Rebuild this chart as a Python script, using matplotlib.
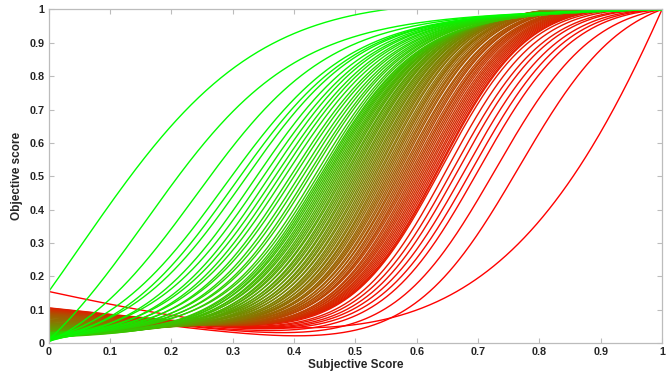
import numpy as np
import matplotlib
matplotlib.use("Agg")
import matplotlib.pyplot as plt

plt.rcParams['font.family'] = ['Liberation Sans', 'DejaVu Sans']

# Each curve: start value y0 at x=0, linear tilt k, logistic width s,
# and the x where it crosses 0.5 (x50); every curve ends at (1, 1).
# green (left) curves
green_x50 = [0.133, 0.211, 0.263, 0.298, 0.312, 0.323, 0.339, 0.350, 0.360, 0.369,
             0.377, 0.385, 0.394, 0.400, 0.408, 0.414, 0.421, 0.426, 0.433, 0.438]
green_y0 = [0.155, 0.010, 0.004, 0.012, 0.006, 0.015, 0.009, 0.018, 0.012, 0.020,
            0.014, 0.022, 0.017, 0.025, 0.020, 0.027, 0.023, 0.030, 0.026, 0.032]
green_k = [-0.12, 0.03, 0.03, 0.03, 0.03, 0.03, 0.03, 0.03, 0.03, 0.03,
           0.03, 0.03, 0.03, 0.03, 0.03, 0.03, 0.03, 0.03, 0.03, 0.03]
green_s = [0.150, 0.120, 0.108, 0.102, 0.099, 0.096, 0.093, 0.091, 0.089, 0.088,
           0.087, 0.086, 0.085, 0.084, 0.083, 0.082, 0.081, 0.080, 0.079, 0.078]

# dense middle band
band_x50 = [0.442, 0.445, 0.448, 0.451, 0.454, 0.457, 0.460, 0.463, 0.466, 0.469,
            0.472, 0.475, 0.478, 0.481, 0.484, 0.487, 0.490, 0.493, 0.496, 0.499,
            0.502, 0.505, 0.508, 0.511, 0.514, 0.517, 0.520, 0.523, 0.526, 0.529,
            0.532, 0.535, 0.538, 0.541, 0.544, 0.547, 0.550, 0.553, 0.556, 0.559,
            0.562, 0.565, 0.568, 0.571, 0.574, 0.577, 0.580, 0.583, 0.586, 0.589,
            0.592, 0.595, 0.598, 0.601, 0.604, 0.607, 0.610, 0.613, 0.616, 0.619,
            0.622, 0.625, 0.628, 0.630]
band_y0 = [0.020, 0.022, 0.018, 0.025, 0.021, 0.027, 0.024, 0.030, 0.026, 0.032,
           0.029, 0.035, 0.031, 0.038, 0.034, 0.041, 0.037, 0.044, 0.040, 0.047,
           0.043, 0.050, 0.046, 0.053, 0.050, 0.056, 0.053, 0.059, 0.057, 0.062,
           0.061, 0.066, 0.065, 0.070, 0.069, 0.074, 0.073, 0.078, 0.077, 0.081,
           0.080, 0.084, 0.083, 0.087, 0.086, 0.089, 0.088, 0.091, 0.090, 0.093,
           0.092, 0.095, 0.094, 0.097, 0.096, 0.099, 0.098, 0.100, 0.101, 0.102,
           0.103, 0.104, 0.105, 0.106]
band_k = [0.04, 0.04, 0.04, 0.04, 0.03, 0.03, 0.03, 0.03, 0.02, 0.02,
          0.02, 0.02, 0.01, 0.01, 0.01, 0.00, 0.00, 0.00, -0.01, -0.01,
          -0.02, -0.03, -0.03, -0.04, -0.05, -0.05, -0.06, -0.07, -0.07, -0.08,
          -0.09, -0.09, -0.10, -0.11, -0.11, -0.12, -0.13, -0.13, -0.14, -0.14,
          -0.15, -0.15, -0.16, -0.16, -0.17, -0.17, -0.17, -0.18, -0.18, -0.18,
          -0.19, -0.19, -0.19, -0.19, -0.20, -0.20, -0.20, -0.20, -0.20, -0.20,
          -0.20, -0.20, -0.20, -0.20]
band_s = [0.078, 0.077, 0.077, 0.076, 0.076, 0.075, 0.075, 0.074, 0.074, 0.073,
          0.073, 0.072, 0.072, 0.072, 0.071, 0.071, 0.071, 0.070, 0.070, 0.070,
          0.070, 0.070, 0.070, 0.070, 0.070, 0.070, 0.070, 0.070, 0.070, 0.070,
          0.070, 0.070, 0.070, 0.071, 0.071, 0.071, 0.071, 0.071, 0.072, 0.072,
          0.072, 0.072, 0.072, 0.073, 0.073, 0.073, 0.073, 0.073, 0.074, 0.074,
          0.074, 0.074, 0.074, 0.074, 0.075, 0.075, 0.075, 0.075, 0.075, 0.075,
          0.075, 0.075, 0.075, 0.075]

# red (right) curves
red_x50 = [0.633, 0.643, 0.653, 0.662, 0.673, 0.684, 0.695, 0.722, 0.758, 0.855]
red_y0 = [0.100, 0.102, 0.098, 0.104, 0.100, 0.103, 0.099, 0.102, 0.100, 0.155]
red_k = [-0.20, -0.21, -0.20, -0.22, -0.21, -0.22, -0.22, -0.24, -0.25, -0.45]
red_s = [0.077, 0.078, 0.079, 0.080, 0.081, 0.082, 0.083, 0.087, 0.092, 0.190]

x50 = green_x50 + band_x50 + red_x50
y0 = green_y0 + band_y0 + red_y0
kk = green_k + band_k + red_k
ss = green_s + band_s + red_s


def sig(z):
    return 1.0 / (1.0 + np.exp(-z))


def curve(x, a, k, m, s):
    lo = sig(-m / s)
    hi = sig((1 - m) / s)
    amp = (1 - a - k) / (hi - lo)
    return a + k * x + amp * (sig((x - m) / s) - lo)


def find_center(xh, a, k, s):
    # bisection so the curve passes 0.5 at xh
    lo, hi = -0.6, 1.6
    for _ in range(80):
        m = 0.5 * (lo + hi)
        if curve(xh, a, k, m, s) > 0.5:
            lo = m
        else:
            hi = m
    return 0.5 * (lo + hi)


x = np.linspace(0, 1, 500)
n = len(x50)

fig = plt.figure(figsize=(6.68, 3.78), dpi=100)
ax = fig.add_axes([0.073, 0.092, 0.918, 0.883])

# reds underneath, greens on top
for i in reversed(range(n)):
    t = i / (n - 1)
    m = find_center(x50[i], y0[i], kk[i], ss[i])
    y = curve(x, y0[i], kk[i], m, ss[i])
    ax.plot(x, y, color=(t, 1 - t, 0), lw=1.0)

ax.set_xlim(0, 1)
ax.set_ylim(0, 1)
ticks = np.arange(0, 1.01, 0.1)
labels = ['0'] + ['%.1f' % v for v in ticks[1:-1]] + ['1']
ax.set_xticks(ticks)
ax.set_xticklabels(labels)
ax.set_yticks(ticks)
ax.set_yticklabels(labels)
ax.tick_params(direction='in', length=3.5, width=0.8, color='#bcbcbc',
               top=True, right=True, labelsize=7.8, labelcolor='#262626', pad=3)
for lab in ax.get_xticklabels() + ax.get_yticklabels():
    lab.set_fontweight('bold')
for sp in ax.spines.values():
    sp.set_color('#bcbcbc')
    sp.set_linewidth(0.9)

ax.set_xlabel('Subjective Score', fontsize=8.5, fontweight='bold', color='#262626', labelpad=1)
ax.set_ylabel('Objective score', fontsize=8.5, fontweight='bold', color='#262626', labelpad=5)

fig.savefig('out.png', dpi=100)
